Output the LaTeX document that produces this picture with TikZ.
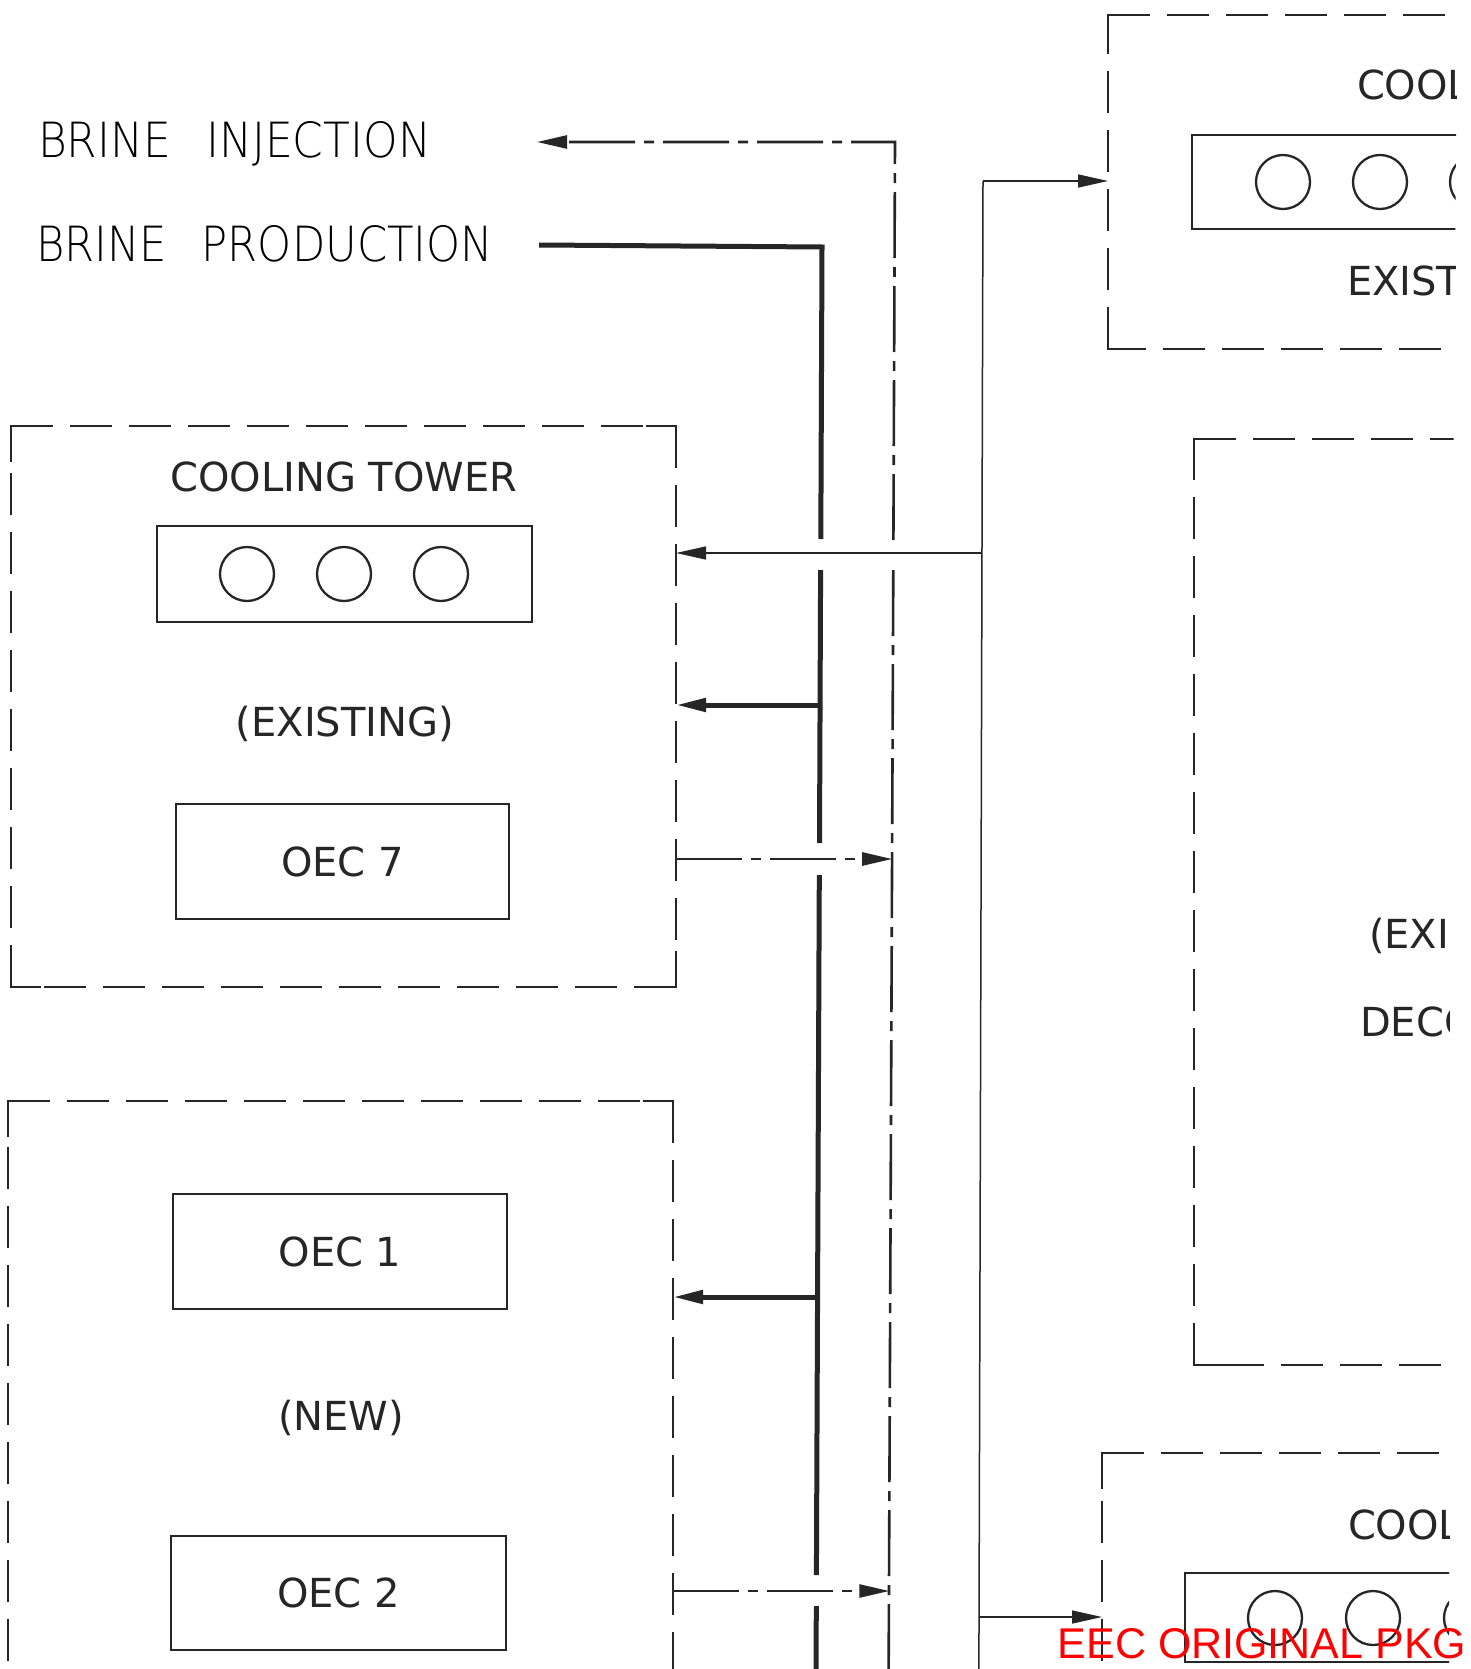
\documentclass[tikz,border=0pt]{standalone}
\usepackage{fontspec}
\setmainfont{DejaVu Sans}
\newfontfamily\cadfont{DejaVu Sans ExtraLight}
\newfontfamily\stampfont{Liberation Sans}
\usetikzlibrary{arrows.meta}
\definecolor{ink}{HTML}{262626}
\newcommand\grpframe[1]{%
  \draw[dedge] (#1.north west) -- (#1.north east);
  \draw[dedge] (#1.north east) -- (#1.south east);
  \draw[dedge] (#1.south east) -- (#1.south west);
  \draw[dedge] (#1.south west) -- (#1.north west);
  \draw[gcorner] ([yshift=-36pt]#1.north west) -- (#1.north west) -- ([xshift=30pt]#1.north west);
  \draw[gcorner] ([xshift=-30pt]#1.north east) -- (#1.north east) -- ([yshift=-36pt]#1.north east);
  \draw[gcorner] ([yshift=36pt]#1.south east) -- (#1.south east) -- ([xshift=-30pt]#1.south east);
  \draw[gcorner] ([xshift=30pt]#1.south west) -- (#1.south west) -- ([yshift=36pt]#1.south west);
}
\begin{document}
\begin{tikzpicture}[x=1pt,y=-1pt,
  every node/.style={inner sep=0pt, outer sep=0pt},
  grp/.style={draw=none, rectangle},
  dedge/.style={draw=ink, line width=2.3pt, dash pattern=on 42pt off 17pt},
  gcorner/.style={draw=ink, line width=2.3pt},
  sbox/.style={draw=ink, line width=2.6pt, rectangle, text=ink,
    font=\fontsize{40}{48}\selectfont},
  fan/.style={circle, draw=ink, line width=2.3pt, minimum size=54pt},
  lbl/.style={text=ink, font=\fontsize{40}{48}\selectfont},
  prodline/.style={draw=ink, line width=5pt},
  injline/.style={draw=ink, line width=2.6pt, dash pattern=on 66pt off 9pt on 10pt off 9pt},
  cwline/.style={draw=ink, line width=1.5pt},
  tipL/.style={-{Triangle[length=30pt,width=13pt]}},
]
\fill[white] (0,0) rectangle (1470,1669);
\useasboundingbox (0,0) rectangle (1470,1669);

\begin{scope}
\clip (0,0) -- (1457,0) -- (1450,935) -- (1449,1669) -- (0,1669) -- cycle;

% ---------- group frames ----------
\node[grp, minimum width=665pt, minimum height=561pt] (grp1) at (343.5,706.5) {};
\node[grp, minimum width=665pt, minimum height=619pt] (grp2) at (340.5,1410.5) {};
\node[grp, minimum width=392pt, minimum height=334pt] (grpR1) at (1304,182) {};
\node[grp, minimum width=306pt, minimum height=926pt] (grpR2) at (1347,902) {};
\node[grp, minimum width=398pt, minimum height=267pt] (grpR3) at (1301,1586.5) {};
\grpframe{grp1}
\grpframe{grp2}
\grpframe{grpR1}
\grpframe{grpR2}
\grpframe{grpR3}

% ---------- left top group ----------
\node[lbl, anchor=base] (ct1) at (344,491) {COOLING TOWER};
\node[sbox, minimum width=375pt, minimum height=96pt] (fan1) at (344.5,574) {};
\node[fan] (f1a) at (247,574) {};
\node[fan] (f1b) at (344,574) {};
\node[fan] (f1c) at (441,574) {};
\node[lbl, anchor=base] (ex1) at (345,736) {(EXISTING)};
\node[sbox, minimum width=333pt, minimum height=115pt] (oec7) at (342.5,861.5) {OEC 7};

% ---------- left bottom group ----------
\node[sbox, minimum width=334pt, minimum height=115pt] (oec1) at (340,1251.5) {OEC 1};
\node[lbl, anchor=base] (new) at (341,1430) {(NEW)};
\node[sbox, minimum width=335pt, minimum height=114pt] (oec2) at (338.5,1593) {OEC 2};

% ---------- right groups ----------
\node[lbl, anchor=base west] (ct2) at (1357,100) {COOLING TOWER};
\node[sbox, minimum width=400pt, minimum height=94pt] (fan2) at (1392,182) {};
\node[fan] (f2a) at (1283,182) {};
\node[fan] (f2b) at (1380,182) {};
\node[fan] (f2c) at (1477,182) {};
\node[lbl, anchor=base west] (ex2) at (1347,296) {EXISTING};

\node[lbl, anchor=base west] (ex3) at (1369,948) {(EXISTING)};
\node[lbl, anchor=base west] (dec) at (1360,1036) {DECO};

\node[lbl, anchor=base west] (ct3) at (1348,1539) {COOLING TOWER};
\node[sbox, minimum width=400pt, minimum height=89pt] (fan3) at (1385,1617.5) {};
\node[fan] (f3a) at (1275,1618) {};
\node[fan] (f3b) at (1373,1618) {};
\node[fan] (f3c) at (1471,1618) {};

% ---------- brine labels ----------
\node[anchor=base west] (injlbl) at (38,158) {\resizebox{393pt}{36pt}{\cadfont BRINE\hspace{0.8em}INJECTION}};
\node[anchor=base west] (prodlbl) at (36,262) {\resizebox{457pt}{36pt}{\cadfont BRINE\hspace{0.8em}PRODUCTION}};

% ---------- coordinates ----------
\coordinate (injtip) at (537,142);
\coordinate (injcorner) at (895,142);
\coordinate (injgapt) at (893.4,540);
\coordinate (injgapb) at (893.3,570);
\coordinate (injbot) at (888.5,1700);
\coordinate (o7) at (892.2,859);
\coordinate (o2) at (889.3,1591);

\coordinate (prodstart) at (539,245);
\coordinate (prodcorner) at (822,247);
\coordinate (pg1t) at (820.8,539);
\coordinate (pg1b) at (820.6,570);
\coordinate (pg2t) at (819.5,843);
\coordinate (pg2b) at (819.3,875);
\coordinate (pg3t) at (816.4,1575);
\coordinate (pg3b) at (816.3,1606);
\coordinate (prodbot) at (815.9,1700);
\coordinate (pb1) at (820,705);
\coordinate (pb2) at (817.5,1297);

\coordinate (cwtop) at (983,181);
\coordinate (cwmid) at (982,553);
\coordinate (cwlow) at (979,1617);
\coordinate (cwbot) at (978.8,1700);

% ---------- brine production (thick) ----------
\draw[prodline] (prodstart) -- (prodcorner) -- (pg1t);
\draw[prodline] (pg1b) -- (pg2t);
\draw[prodline] (pg2b) -- (pg3t);
\draw[prodline] (pg3b) -- (prodbot);
\draw[prodline, tipL] (pb1) -- (pb1 -| grp1.east);
\draw[prodline, tipL] (pb2) -- (pb2 -| grp2.east);

% ---------- brine injection (dash-dot) ----------
\draw[injline, tipL] (injgapt) -- (injcorner) -- (injtip);
\draw[injline] (injgapb) -- (injbot);
\draw[injline, tipL] (o7 -| grp1.east) -- (o7);
\draw[injline, tipL] (o2 -| grp2.east) -- (o2);

% ---------- cooling water (thin) ----------
\draw[cwline] (cwtop) -- (cwbot);
\draw[cwline, tipL] (cwtop) -- (cwtop -| grpR1.west);
\draw[cwline, tipL] (cwmid) -- (cwmid -| grp1.east);
\draw[cwline, tipL] (cwlow) -- (cwlow -| grpR3.west);
\end{scope}

\node[anchor=base, text=red, font=\stampfont\fontsize{43}{50}\selectfont] (stamp) at (1262,1658) {EEC ORIGINAL PKG};
\end{tikzpicture}
\end{document}
